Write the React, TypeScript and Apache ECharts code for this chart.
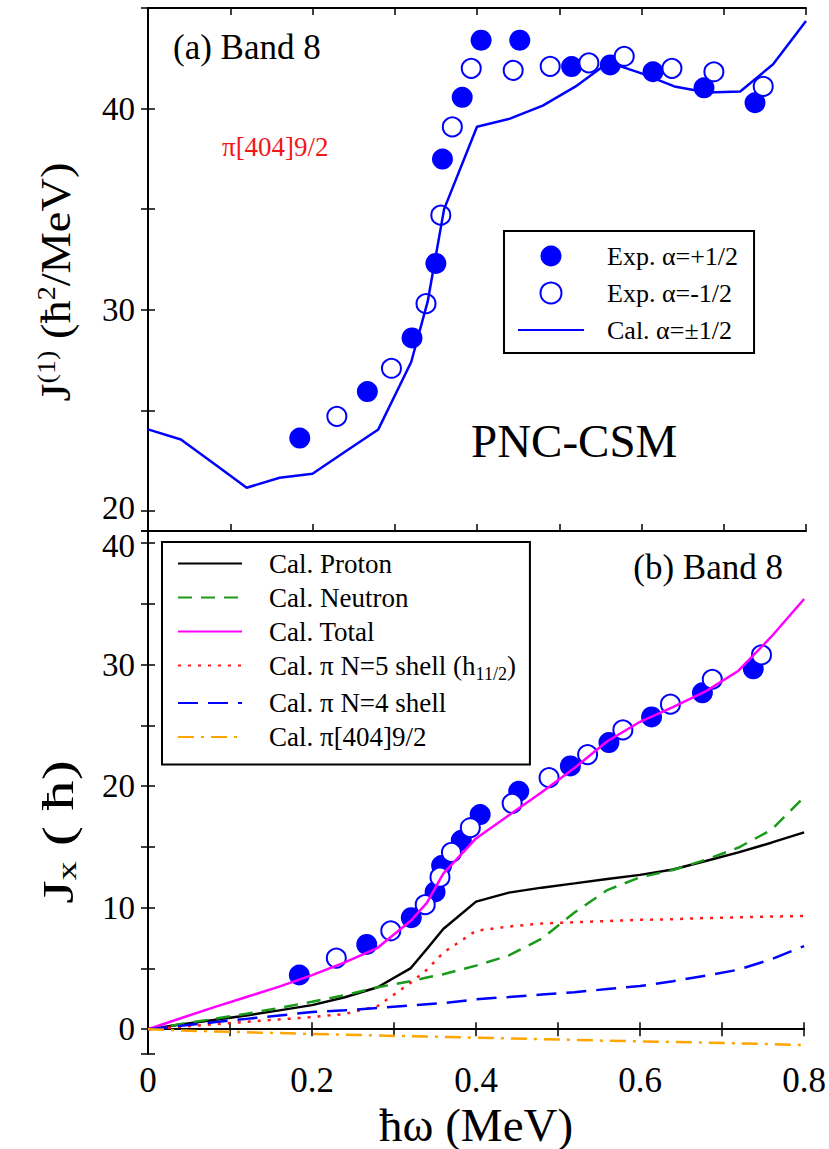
import React, { useEffect, useRef } from "react";
import * as echarts from "echarts";

// Rotational frequency grid of the PNC-CSM calculation (MeV)
const calcOmega = [0, 0.04, 0.08, 0.12, 0.16, 0.2, 0.24, 0.28, 0.32, 0.34, 0.36, 0.4, 0.44, 0.48, 0.52, 0.56, 0.6, 0.64, 0.68, 0.72, 0.76, 0.8];

// (a) kinematic moment of inertia J(1), calculated (ħ²/MeV)
const j1Calc = [24.05, 23.55, 22.35, 21.15, 21.65, 21.85, 22.95, 24.05, 27.4, 30.4, 35.0, 39.1, 39.5, 40.15, 41.1, 42.3, 41.75, 41.1, 40.8, 40.85, 42.2, 44.35];

// (b) alignment components Jx, calculated (ħ)
const jxProton = [0, 0.38, 0.76, 1.13, 1.55, 1.98, 2.63, 3.45, 5.0, 6.6, 8.25, 10.5, 11.24, 11.65, 12.0, 12.37, 12.7, 13.14, 13.84, 14.55, 15.35, 16.2];
const jxNeutron = [0, 0.42, 0.85, 1.27, 1.75, 2.26, 2.8, 3.45, 3.95, 4.25, 4.52, 5.23, 6.07, 7.45, 9.6, 11.45, 12.5, 13.1, 13.95, 14.95, 16.4, 19.1];
const jxTotal = [0, 0.9, 1.8, 2.65, 3.5, 4.45, 5.5, 6.7, 8.9, 10.4, 12.8, 15.7, 17.6, 19.5, 21.5, 23.7, 25.3, 26.5, 27.8, 29.5, 32.3, 35.4];
const jxPiN5 = [0, 0.2, 0.4, 0.6, 0.8, 1.0, 1.25, 1.9, 3.8, 4.9, 6.3, 8.1, 8.45, 8.7, 8.8, 8.9, 9.0, 9.05, 9.15, 9.2, 9.27, 9.32];
const jxPiN4 = [0, 0.28, 0.57, 0.85, 1.13, 1.41, 1.55, 1.75, 1.95, 2.05, 2.15, 2.46, 2.65, 2.85, 3.05, 3.3, 3.55, 3.95, 4.4, 4.9, 5.75, 6.84];
const jxPi404 = [0, -0.1, -0.18, -0.25, -0.32, -0.4, -0.45, -0.52, -0.58, -0.61, -0.64, -0.7, -0.76, -0.82, -0.88, -0.95, -1.0, -1.05, -1.1, -1.17, -1.23, -1.3];

// Experimental data, signature alpha = +1/2
const expOmegaPlus = [0.1845, 0.2667, 0.321, 0.35, 0.358, 0.382, 0.405, 0.452, 0.515, 0.562, 0.614, 0.676, 0.738];
const j1ExpPlus = [23.62, 25.93, 28.6, 32.3, 37.49, 40.56, 43.4, 43.4, 42.09, 42.17, 41.83, 41.03, 40.29];
const jxExpPlus = [4.46, 6.98, 9.18, 11.3, 13.47, 15.54, 17.66, 19.58, 21.67, 23.59, 25.7, 27.68, 29.66];

// Experimental data, signature alpha = -1/2
const expOmegaMinus = [0.2296, 0.296, 0.338, 0.356, 0.37, 0.393, 0.444, 0.489, 0.536, 0.579, 0.637, 0.688, 0.748];
const j1ExpMinus = [24.7, 27.09, 30.3, 34.7, 39.09, 42.0, 41.9, 42.1, 42.27, 42.6, 42.0, 41.83, 41.1];
const jxExpMinus = [5.85, 8.1, 10.25, 12.51, 14.55, 16.58, 18.59, 20.7, 22.6, 24.63, 26.75, 28.8, 30.8];

// Axis ranges
const xRange = [0, 0.8];
const j1Range = [19, 45];
const jxRange = [-2, 41];

const FONT = "'Liberation Serif', 'Times New Roman', serif";
const BLUE = "#0000ff";

const N5_NAME = "Cal. π N=5 shell (h11/2)";

const zip = (xs: number[], ys: number[]) => xs.map((x, i) => [x, ys[i]]);

const frameLine = { show: true, lineStyle: { color: "#000", width: 2 } };
const inTicks = { show: true, inside: true, length: 7, lineStyle: { color: "#000", width: 1.5 } };

function xAxis(gridIndex: number, position: "top" | "bottom", labels: boolean) {
  return {
    type: "value",
    gridIndex,
    position,
    min: xRange[0],
    max: xRange[1],
    interval: 0.1,
    axisLine: frameLine,
    axisTick: inTicks,
    splitLine: { show: false },
    axisLabel: labels
      ? {
          show: true,
          margin: 12,
          fontSize: 35,
          lineHeight: 30,
          fontFamily: FONT,
          color: "#000",
          formatter: (v: number) => {
            const k = Math.round(v * 10);
            if (k % 2 !== 0) return "";
            return k === 0 ? "0" : (k / 10).toFixed(1);
          },
        }
      : { show: false },
  };
}

// Labels every 10; the label next to the shared panel edge is nudged away from it
// (up in the upper panel, down in the lower one) so the two stay apart.
function yAxis(gridIndex: number, position: "left" | "right", range: number[], labels: boolean, edgeValue?: number, edgeStyle?: string) {
  return {
    type: "value",
    gridIndex,
    position,
    min: range[0],
    max: range[1],
    splitNumber: 9,
    minInterval: 5,
    maxInterval: 5,
    axisLine: frameLine,
    axisTick: inTicks,
    splitLine: { show: false },
    axisLabel: labels
      ? {
          show: true,
          margin: 13,
          fontSize: 33,
          lineHeight: 28,
          fontFamily: FONT,
          color: "#000",
          formatter: (v: number) => {
            if (Math.abs(v % 10) > 1e-9) return "";
            return v === edgeValue ? `{${edgeStyle}|${v}}` : String(v);
          },
          rich: {
            up: { fontSize: 33, lineHeight: 28, fontFamily: FONT, color: "#000", padding: [0, 0, 6, 0] },
            dn: { fontSize: 33, lineHeight: 28, fontFamily: FONT, color: "#000", padding: [6, 0, 0, 0] },
          },
        }
      : { show: false },
  };
}

function calcLine(name: string, ys: number[], color: string, type: any, width = 2.5) {
  return {
    name,
    type: "line",
    xAxisIndex: 2,
    yAxisIndex: 2,
    data: zip(calcOmega, ys),
    symbol: "none",
    z: 4,
    lineStyle: { color, width, type },
    itemStyle: { color },
  };
}

// legend entry for a line series: show only the line sample
const lineEntry = (name: string) => ({ name, itemStyle: { opacity: 0 } });

export default function App() {
  const ref = useRef<HTMLDivElement>(null);

  useEffect(() => {
    if (!ref.current) return;
    const chart = echarts.init(ref.current, undefined, { renderer: "svg" });

    const filledStyle = { color: BLUE, opacity: 1 };
    const openStyle = { color: "#ffffff", borderColor: BLUE, borderWidth: 2, opacity: 1 };

    chart.setOption({
      animation: false,
      backgroundColor: "#ffffff",
      textStyle: { fontFamily: FONT },
      grid: [
        { left: 148, top: 8, width: 658, height: 523 },
        { left: 148, top: 531, width: 658, height: 524 },
      ],
      xAxis: [
        xAxis(0, "bottom", false),
        xAxis(0, "top", false),
        {
          ...xAxis(1, "bottom", true),
          name: "ħω (MeV)",
          nameLocation: "middle",
          nameGap: 71,
          nameTextStyle: { fontSize: 47, fontFamily: FONT, color: "#000", verticalAlign: "middle" },
        },
        xAxis(1, "top", false),
      ],
      yAxis: [
        yAxis(0, "left", j1Range, true, 20, "up"),
        yAxis(0, "right", j1Range, false),
        yAxis(1, "left", jxRange, true, 40, "dn"),
        yAxis(1, "right", jxRange, false),
      ],
      legend: [
        {
          data: ["Exp. α=+1/2", "Exp. α=-1/2", lineEntry("Cal. α=±1/2")],
          orient: "vertical",
          left: 504,
          top: 231,
          padding: [12, 16, 10, 13],
          itemWidth: 66,
          itemHeight: 21,
          itemGap: 11,
          borderColor: "#000",
          borderWidth: 2,
          selectedMode: false,
          textStyle: { fontSize: 26, fontFamily: FONT, color: "#000", padding: [0, 0, 0, 18] },
        },
        {
          data: [
            lineEntry("Cal. Proton"),
            lineEntry("Cal. Neutron"),
            lineEntry("Cal. Total"),
            lineEntry(N5_NAME),
            lineEntry("Cal. π N=4 shell"),
            lineEntry("Cal. π[404]9/2"),
          ],
          orient: "vertical",
          left: 162,
          top: 542,
          padding: [8, 14, 14, 15],
          itemWidth: 64,
          itemHeight: 14,
          itemGap: 7,
          borderColor: "#000",
          borderWidth: 2,
          selectedMode: false,
          formatter: (name: string) => (name === N5_NAME ? "Cal. π N=5 shell (h{sub|11/2})" : name),
          textStyle: {
            fontSize: 27,
            fontFamily: FONT,
            color: "#000",
            padding: [0, 0, 0, 22],
            rich: {
              sub: { fontSize: 18, fontFamily: FONT, color: "#000", padding: [16, 0, 0, 0] },
            },
          },
        },
      ],
      graphic: [
        {
          type: "text",
          x: 173,
          y: 47,
          style: { text: "(a) Band 8", fontSize: 35, fontFamily: FONT, fill: "#000", align: "left", verticalAlign: "middle" },
        },
        {
          type: "text",
          x: 222,
          y: 147,
          style: { text: "π[404]9/2", fontSize: 27, fontFamily: FONT, fill: "#f01818", align: "left", verticalAlign: "middle" },
        },
        {
          type: "text",
          x: 471,
          y: 441,
          style: { text: "PNC-CSM", fontSize: 47, fontFamily: FONT, fill: "#000", align: "left", verticalAlign: "middle" },
        },
        {
          type: "text",
          x: 783,
          y: 567,
          style: { text: "(b) Band 8", fontSize: 35, fontFamily: FONT, fill: "#000", align: "right", verticalAlign: "middle" },
        },
        {
          type: "text",
          x: 56,
          y: 282,
          rotation: Math.PI / 2,
          scaleX: 1.08,
          style: {
            text: "J{sup|(1)} (ħ{sup|2}/MeV)",
            fontSize: 43,
            fontFamily: FONT,
            fill: "#000",
            align: "center",
            verticalAlign: "middle",
            rich: {
              sup: { fontSize: 26, fontFamily: FONT, fill: "#000", padding: [0, 0, 20, 0] },
            },
          },
        },
        {
          type: "text",
          x: 58,
          y: 832,
          rotation: Math.PI / 2,
          scaleX: 1.35,
          style: {
            text: "J{sub|x} ( ħ)",
            fontSize: 45,
            fontFamily: FONT,
            fill: "#000",
            align: "center",
            verticalAlign: "middle",
            rich: {
              sub: { fontSize: 28, fontFamily: FONT, fill: "#000", padding: [17, 0, 0, 0] },
            },
          },
        },
      ],
      series: [
        // (a) J(1)
        {
          name: "Exp. α=+1/2",
          type: "scatter",
          xAxisIndex: 0,
          yAxisIndex: 0,
          data: zip(expOmegaPlus, j1ExpPlus),
          symbol: "circle",
          symbolSize: 21,
          itemStyle: filledStyle,
          z: 2,
        },
        {
          name: "Exp. α=-1/2",
          type: "scatter",
          xAxisIndex: 0,
          yAxisIndex: 0,
          data: zip(expOmegaMinus, j1ExpMinus),
          symbol: "circle",
          symbolSize: 19,
          itemStyle: openStyle,
          z: 3,
        },
        {
          name: "Cal. α=±1/2",
          type: "line",
          xAxisIndex: 0,
          yAxisIndex: 0,
          data: zip(calcOmega, j1Calc),
          symbol: "none",
          z: 4,
          lineStyle: { color: BLUE, width: 2.5 },
          itemStyle: { color: BLUE },
        },
        // (b) Jx
        {
          name: "Exp. α=+1/2",
          type: "scatter",
          xAxisIndex: 2,
          yAxisIndex: 2,
          data: zip(expOmegaPlus, jxExpPlus),
          symbol: "circle",
          symbolSize: 21,
          itemStyle: filledStyle,
          z: 2,
        },
        {
          name: "Exp. α=-1/2",
          type: "scatter",
          xAxisIndex: 2,
          yAxisIndex: 2,
          data: zip(expOmegaMinus, jxExpMinus),
          symbol: "circle",
          symbolSize: 19,
          itemStyle: openStyle,
          z: 3,
        },
        calcLine("Cal. Proton", jxProton, "#000000", "solid"),
        calcLine("Cal. Neutron", jxNeutron, "#1a9a1a", [14, 9]),
        calcLine("Cal. Total", jxTotal, "#ff00ff", "solid"),
        calcLine(N5_NAME, jxPiN5, "#ff1a1a", [3, 7]),
        calcLine("Cal. π N=4 shell", jxPiN4, BLUE, [20, 10]),
        calcLine("Cal. π[404]9/2", jxPi404, "#ffa500", [16, 7, 3, 7]),
      ],
    });

    return () => chart.dispose();
  }, []);

  return (
    <div
      ref={ref}
      style={{ position: "absolute", left: 0, top: 0, width: 829, height: 1149, background: "#fff" }}
    />
  );
}
